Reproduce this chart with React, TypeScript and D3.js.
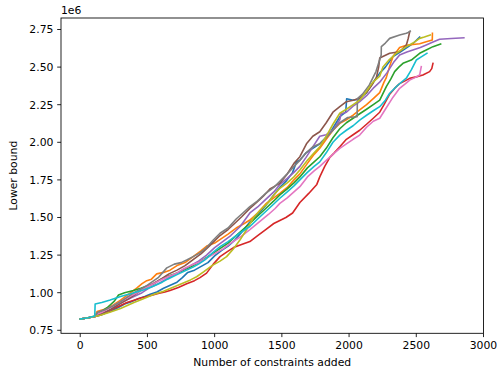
import React from "react";
import * as d3 from "d3";

const seriesNames = ["run0", "run1", "run2", "run3", "run4", "run5", "run6", "run7", "run8", "run9"];
const colors = ["#1f77b4", "#ff7f0e", "#2ca02c", "#d62728", "#9467bd", "#8c564b", "#e377c2", "#7f7f7f", "#bcbd22", "#17becf"];

const xTicks = [0, 500, 1000, 1500, 2000, 2500, 3000];
const yTicks = [0.75, 1.0, 1.25, 1.5, 1.75, 2.0, 2.25, 2.5, 2.75];

type P = [number, number];

const blue: P[] = [[0,0.825],[60,0.833],[110,0.842],[150,0.850],[180,0.862],[230,0.878],[280,0.90],[330,0.925],[380,0.94],[430,0.96],[480,0.975],[520,0.99],[570,1.005],[620,1.03],[670,1.05],[720,1.07],[760,1.10],[800,1.135],[850,1.15],[900,1.175],[950,1.20],[1000,1.245],[1050,1.28],[1100,1.31],[1150,1.35],[1200,1.40],[1262,1.47],[1320,1.52],[1380,1.58],[1440,1.65],[1485,1.70],[1530,1.74],[1580,1.80],[1609,1.87],[1634,1.88],[1680,1.93],[1730,1.96],[1782,1.99],[1857,2.06],[1931,2.17],[1975,2.20],[1982,2.29],[2030,2.28],[2079,2.29],[2130,2.33],[2180,2.40],[2228,2.46],[2270,2.50],[2327,2.57],[2380,2.60],[2430,2.63],[2480,2.66],[2525,2.70]];
const orange: P[] = [[0,0.825],[60,0.833],[110,0.845],[125,0.875],[180,0.89],[240,0.915],[300,0.95],[360,0.99],[420,1.03],[460,1.06],[495,1.08],[530,1.09],[569,1.125],[620,1.135],[668,1.15],[720,1.18],[780,1.20],[840,1.24],[900,1.28],[941,1.31],[1000,1.33],[1050,1.36],[1100,1.39],[1160,1.43],[1220,1.46],[1262,1.483],[1320,1.53],[1380,1.59],[1440,1.63],[1485,1.66],[1540,1.70],[1590,1.75],[1634,1.79],[1690,1.86],[1740,1.92],[1782,1.96],[1830,2.02],[1880,2.08],[1931,2.126],[1980,2.15],[2030,2.18],[2079,2.215],[2130,2.25],[2180,2.29],[2228,2.33],[2260,2.40],[2277,2.43],[2300,2.50],[2327,2.57],[2376,2.63],[2426,2.645],[2475,2.65],[2525,2.655],[2574,2.668],[2619,2.68],[2620,2.725]];
const green: P[] = [[0,0.825],[60,0.833],[110,0.843],[150,0.87],[200,0.90],[250,0.94],[285,0.985],[330,1.00],[396,1.015],[450,1.03],[500,1.045],[550,1.06],[600,1.09],[650,1.11],[700,1.125],[760,1.145],[820,1.17],[880,1.20],[950,1.24],[1000,1.27],[1050,1.30],[1100,1.33],[1160,1.38],[1210,1.42],[1262,1.46],[1320,1.51],[1380,1.56],[1440,1.61],[1485,1.65],[1540,1.69],[1590,1.73],[1634,1.77],[1690,1.83],[1740,1.87],[1782,1.904],[1830,1.96],[1880,2.03],[1931,2.09],[1980,2.13],[2030,2.16],[2079,2.19],[2130,2.22],[2180,2.25],[2228,2.28],[2277,2.37],[2310,2.42],[2339,2.47],[2370,2.50],[2401,2.525],[2463,2.547],[2525,2.592],[2574,2.614],[2624,2.636],[2681,2.654]];
const red: P[] = [[0,0.825],[60,0.833],[110,0.842],[160,0.855],[200,0.87],[250,0.895],[300,0.915],[347,0.935],[400,0.95],[450,0.965],[495,0.975],[540,0.985],[580,0.995],[630,1.005],[668,1.015],[730,1.035],[792,1.06],[850,1.08],[891,1.10],[940,1.13],[990,1.19],[1040,1.24],[1089,1.27],[1140,1.30],[1200,1.32],[1262,1.34],[1320,1.38],[1380,1.42],[1440,1.46],[1485,1.48],[1530,1.50],[1580,1.53],[1634,1.60],[1700,1.66],[1760,1.72],[1782,1.77],[1819,1.84],[1857,1.90],[1890,1.93],[1931,1.97],[1980,2.02],[2030,2.05],[2079,2.08],[2130,2.12],[2180,2.16],[2228,2.20],[2260,2.25],[2302,2.32],[2340,2.36],[2376,2.39],[2420,2.41],[2451,2.425],[2500,2.435],[2549,2.447],[2599,2.47],[2615,2.49],[2624,2.525]];
const purple: P[] = [[0,0.825],[60,0.833],[110,0.842],[160,0.86],[220,0.885],[280,0.92],[340,0.95],[400,0.975],[460,1.00],[520,1.035],[580,1.06],[640,1.09],[700,1.12],[760,1.15],[820,1.18],[880,1.21],[940,1.25],[1000,1.30],[1060,1.34],[1120,1.38],[1190,1.44],[1262,1.53],[1320,1.57],[1380,1.62],[1440,1.67],[1485,1.72],[1540,1.76],[1590,1.80],[1634,1.84],[1680,1.90],[1730,1.97],[1782,2.04],[1830,2.05],[1880,2.08],[1931,2.15],[1940,2.19],[1980,2.20],[2030,2.24],[2079,2.27],[2130,2.31],[2180,2.36],[2228,2.40],[2280,2.46],[2330,2.53],[2376,2.58],[2430,2.60],[2475,2.614],[2530,2.63],[2574,2.647],[2620,2.665],[2673,2.685],[2760,2.69],[2854,2.695]];
const brown: P[] = [[0,0.825],[60,0.833],[110,0.842],[160,0.86],[230,0.89],[300,0.93],[360,0.96],[420,0.995],[480,1.03],[540,1.06],[600,1.09],[660,1.125],[720,1.15],[780,1.18],[840,1.22],[900,1.26],[960,1.31],[1040,1.38],[1100,1.42],[1160,1.47],[1201,1.505],[1262,1.56],[1312,1.60],[1360,1.64],[1411,1.69],[1485,1.727],[1540,1.79],[1590,1.86],[1634,1.904],[1683,1.99],[1730,2.04],[1782,2.07],[1830,2.13],[1880,2.20],[1931,2.237],[1980,2.27],[2030,2.28],[2079,2.293],[2129,2.33],[2170,2.38],[2203,2.43],[2220,2.50],[2228,2.56],[2302,2.592],[2376,2.602],[2426,2.647],[2440,2.69],[2451,2.735]];
const pink: P[] = [[0,0.825],[60,0.833],[110,0.842],[120,0.855],[160,0.87],[200,0.89],[250,0.915],[300,0.94],[347,0.965],[400,0.99],[450,1.015],[500,1.04],[545,1.06],[600,1.085],[660,1.11],[718,1.13],[770,1.16],[830,1.185],[880,1.20],[930,1.225],[1000,1.26],[1060,1.29],[1120,1.33],[1190,1.37],[1262,1.42],[1330,1.47],[1400,1.52],[1450,1.56],[1485,1.594],[1540,1.63],[1590,1.67],[1634,1.705],[1690,1.77],[1740,1.81],[1782,1.84],[1830,1.88],[1880,1.92],[1931,1.96],[1980,1.99],[2030,2.02],[2079,2.048],[2130,2.10],[2180,2.14],[2228,2.16],[2270,2.22],[2327,2.30],[2376,2.359],[2420,2.39],[2451,2.414],[2490,2.43],[2525,2.447],[2537,2.503]];
const gray: P[] = [[0,0.825],[60,0.833],[110,0.842],[130,0.87],[180,0.885],[240,0.91],[300,0.94],[350,0.97],[400,1.00],[450,1.025],[500,1.05],[540,1.075],[580,1.10],[644,1.165],[700,1.19],[750,1.20],[792,1.217],[840,1.24],[891,1.265],[940,1.30],[990,1.35],[1040,1.395],[1100,1.43],[1160,1.49],[1210,1.53],[1262,1.572],[1320,1.61],[1380,1.66],[1440,1.70],[1485,1.74],[1540,1.79],[1590,1.84],[1634,1.88],[1680,1.93],[1730,1.97],[1782,1.99],[1830,2.03],[1880,2.08],[1931,2.13],[1990,2.165],[2060,2.17],[2062,2.29],[2100,2.32],[2150,2.38],[2200,2.47],[2239,2.58],[2240,2.636],[2270,2.66],[2302,2.691],[2376,2.713],[2426,2.725],[2440,2.73],[2455,2.74]];
const olive: P[] = [[0,0.825],[60,0.833],[110,0.842],[150,0.85],[220,0.87],[300,0.895],[350,0.915],[400,0.935],[470,0.96],[550,0.99],[620,1.01],[700,1.04],[767,1.065],[820,1.085],[866,1.106],[920,1.14],[980,1.18],[1040,1.21],[1089,1.24],[1139,1.29],[1188,1.35],[1238,1.42],[1290,1.50],[1340,1.55],[1400,1.60],[1440,1.65],[1485,1.694],[1540,1.73],[1590,1.77],[1634,1.816],[1690,1.88],[1740,1.93],[1782,1.97],[1830,2.04],[1880,2.12],[1931,2.193],[1980,2.22],[2030,2.25],[2079,2.28],[2130,2.34],[2178,2.40],[2228,2.44],[2252,2.50],[2300,2.55],[2351,2.592],[2426,2.636],[2475,2.66],[2525,2.691],[2560,2.70],[2604,2.713]];
const cyan: P[] = [[0,0.825],[60,0.833],[108,0.845],[111,0.925],[160,0.935],[223,0.951],[300,0.975],[380,0.995],[470,1.018],[520,1.035],[560,1.05],[610,1.07],[650,1.09],[720,1.12],[792,1.15],[840,1.17],[880,1.19],[930,1.22],[990,1.27],[1040,1.306],[1100,1.34],[1160,1.38],[1210,1.41],[1262,1.44],[1320,1.49],[1380,1.54],[1440,1.59],[1485,1.628],[1540,1.67],[1590,1.71],[1634,1.75],[1690,1.80],[1740,1.84],[1782,1.87],[1830,1.93],[1880,2.00],[1931,2.048],[1980,2.08],[2030,2.11],[2079,2.148],[2130,2.18],[2180,2.21],[2228,2.237],[2270,2.28],[2302,2.326],[2364,2.381],[2426,2.426],[2463,2.481],[2500,2.547],[2540,2.57],[2579,2.592]];

const allSeries = [blue, orange, green, red, purple, brown, pink, gray, olive, cyan];

const W = 497, H = 376;
const left = 61, right = 483.5, top = 18, bottom = 333.3;
const FONT = "DejaVu Sans, sans-serif";
const FS = 10.8;

export default function App() {
  const x = d3.scaleLinear().domain([-143, 3000]).range([left, right]);
  const y = d3.scaleLinear().domain([0.730, 2.8265]).range([bottom, top]);
  const line = d3.line<P>().x(d => x(d[0])).y(d => y(d[1]));
  return (
    <svg width={W} height={H} style={{ position: "absolute", left: 0, top: 0, background: "#fff" }} fontFamily={FONT}>
      <rect x={0} y={0} width={W} height={H} fill="#fff" />
      <defs>
        <clipPath id="plotclip"><rect x={left} y={top} width={right - left} height={bottom - top} /></clipPath>
      </defs>
      <g clipPath="url(#plotclip)">
        {allSeries.map((s, i) => (
          <path key={seriesNames[i]} d={line(s) || ""} fill="none" stroke={colors[i]} strokeWidth={1.6} strokeLinejoin="round" strokeLinecap="square" />
        ))}
      </g>
      <rect x={left} y={top} width={right - left} height={bottom - top} fill="none" stroke="#000" strokeWidth={0.86} />
      {xTicks.map(t => (
        <g key={"x" + t}>
          <line x1={x(t)} x2={x(t)} y1={bottom} y2={bottom + 3.8} stroke="#000" strokeWidth={0.86} />
          <text x={x(t)} y={bottom + 7.6 + FS * 0.76} fontSize={FS} textAnchor="middle" fill="#000">{t}</text>
        </g>
      ))}
      {yTicks.map(t => (
        <g key={"y" + t}>
          <line x1={left - 3.8} x2={left} y1={y(t)} y2={y(t)} stroke="#000" strokeWidth={0.86} />
          <text x={left - 7.6} y={y(t)} dy="0.36em" fontSize={FS} textAnchor="end" fill="#000">{t.toFixed(2)}</text>
        </g>
      ))}
      <text x={left} y={14} fontSize={FS} fill="#000">1e6</text>
      <text x={(left + right) / 2} y={366} fontSize={FS} textAnchor="middle" fill="#000">Number of constraints added</text>
      <text transform={`translate(17,${(top + bottom) / 2}) rotate(-90)`} fontSize={FS} textAnchor="middle" fill="#000">Lower bound</text>
    </svg>
  );
}
